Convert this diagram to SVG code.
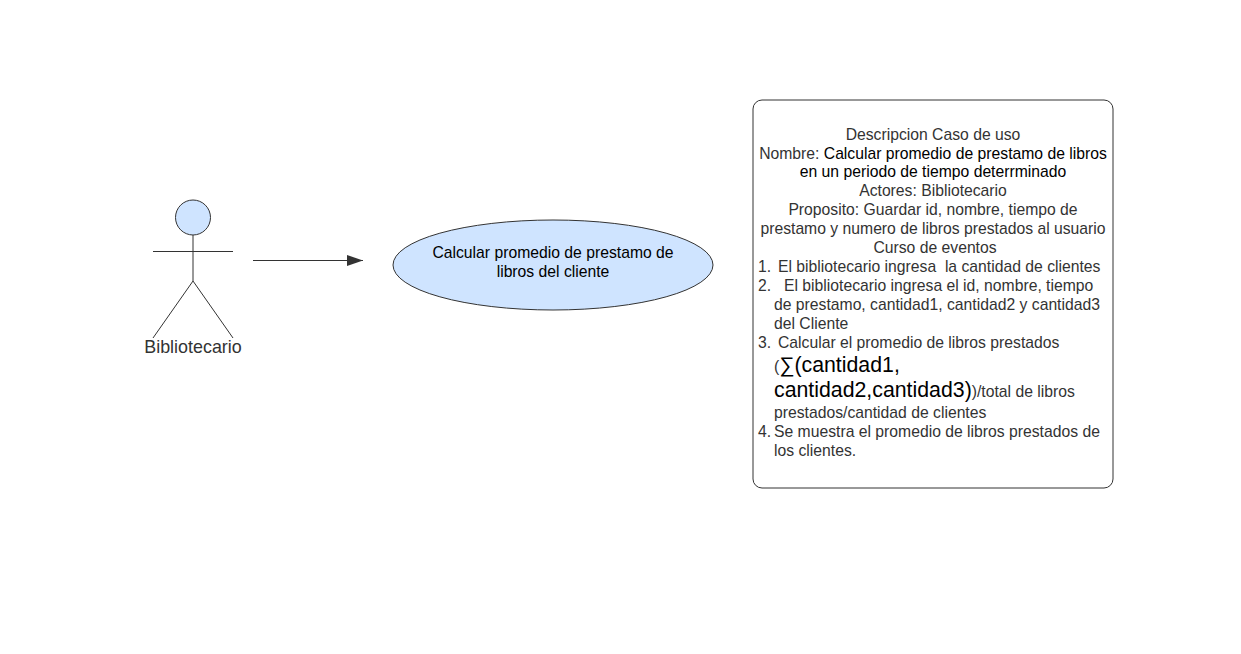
<svg xmlns="http://www.w3.org/2000/svg" width="1241" height="654" viewBox="0 0 1241 654">
<style>
text{font-family:"Liberation Sans",Arial,sans-serif;font-size:15.730px;fill:#333333}
.m{text-anchor:middle}
.k{fill:#000000}
.b{font-size:21.300px;fill:#000000}
.s{fill:#cfe4ff;stroke:#333333;stroke-width:1}
.l{fill:none;stroke:#333333;stroke-width:1}
</style>
<defs><marker id="a" markerUnits="userSpaceOnUse" markerWidth="17" markerHeight="12" refX="16" refY="6" orient="auto"><path d="M0 0.5L16 6L0 11.5Z" fill="#333333"/></marker></defs>
<rect width="1241" height="654" fill="#ffffff"/>
<g id="connectors"><path class="l" d="M253 260.500H363" marker-end="url(#a)"/></g>
<g id="actor">
<circle class="s" cx="193" cy="217.500" r="17.500"/>
<path class="l" d="M193 235V281M153 251.500H233M193 281L153 338M193 281L233 338"/>
<text class="m" x="193" y="352.500" style="font-size:17.900px">Bibliotecario</text>
</g>
<g id="usecase">
<ellipse class="s" cx="553" cy="265" rx="160" ry="45"/>
<text class="m k" x="553" y="258">Calcular promedio de prestamo de</text>
<text class="m k" x="553" y="277">libros del cliente</text>
</g>
<g id="description">
<rect x="753" y="100" width="360" height="388" rx="9" fill="#ffffff" stroke="#333333"/>
<text class="m" x="933" y="140">Descripcion Caso de uso</text>
<text class="m" x="933" y="158.500">Nombre: <tspan class="k">Calcular promedio de prestamo de libros</tspan></text>
<text class="m k" x="933" y="177">en un periodo de tiempo deterrminado</text>
<text class="m" x="933" y="196">Actores: Bibliotecario</text>
<text class="m" x="933" y="215">Proposito: Guardar id, nombre, tiempo de</text>
<text class="m" x="933" y="234">prestamo y numero de libros prestados al usuario</text>
<text class="m" x="935" y="253">Curso de eventos</text>
<text x="758" y="272">1.</text><text x="778" y="272" xml:space="preserve">El bibliotecario ingresa  la cantidad de clientes</text>
<text x="758" y="291">2.</text><text x="784" y="291">El bibliotecario ingresa el id, nombre, tiempo</text>
<text x="774" y="310">de prestamo, cantidad1, cantidad2 y cantidad3</text>
<text x="774" y="329">del Cliente</text>
<text x="758" y="347.500">3.</text><text x="778" y="347.500">Calcular el promedio de libros prestados</text>
<text x="774" y="371.500">(<tspan class="b">∑(cantidad1,</tspan></text>
<text x="774" y="397"><tspan class="b">cantidad2,cantidad3)</tspan>)/total de libros</text>
<text x="774" y="418">prestados/cantidad de clientes</text>
<text x="758" y="437">4.</text><text x="774" y="437">Se muestra el promedio de libros prestados de</text>
<text x="774" y="456">los clientes.</text>
</g>
</svg>
